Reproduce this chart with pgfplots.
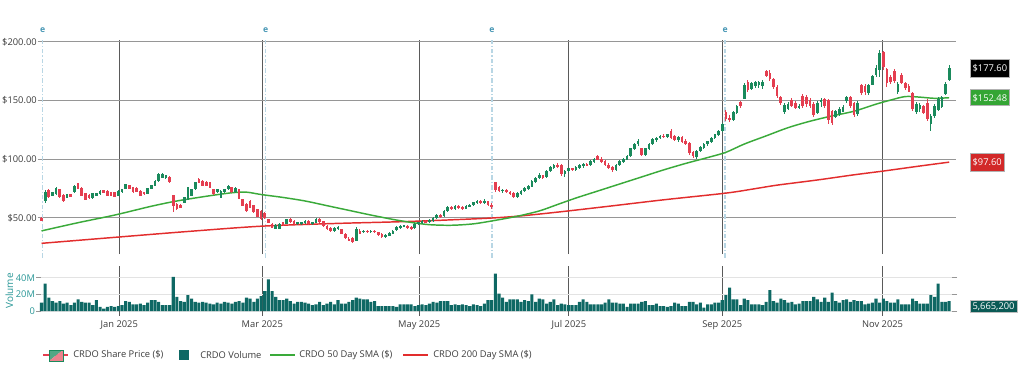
\documentclass[border=0pt]{standalone}
\usepackage{fontspec}
\setmainfont{Open Sans}
\usepackage{pgfplots}
\usepackage{pgfplotstable}
\pgfplotsset{compat=1.18}

\definecolor{cup}{RGB}{26,138,92}
\definecolor{cdn}{RGB}{228,62,80}
\definecolor{vol}{RGB}{14,104,100}
\definecolor{smaG}{RGB}{58,170,58}
\definecolor{smaR}{RGB}{226,45,45}
\definecolor{gridG}{RGB}{150,150,150}
\definecolor{monthG}{RGB}{90,90,90}
\definecolor{earn}{RGB}{184,214,228}
\definecolor{earnT}{RGB}{70,150,180}
\definecolor{tealT}{RGB}{40,150,150}
\definecolor{txt}{RGB}{60,60,60}
\definecolor{boxG}{RGB}{52,165,52}
\definecolor{boxR}{RGB}{210,40,40}
\definecolor{boxT}{RGB}{10,90,85}

\pgfplotstableread{
i o h l c v
0 50 50.5 47.5 48 10
1 65 74 63 71.5 33
2 74 75 67 68 16
3 69 72.5 68.5 72 12
4 71 76 70 75.5 10
5 74.5 75 67 68 12
6 69.5 70.5 64 65 9
7 67.5 70.5 67 70 10
8 70 70.5 68 68.5 7
9 72 78 71 77.4 10
10 79.5 80 74.5 75 14
11 75.5 76 68.5 69 11
12 71 71.5 65 66 10
13 69.5 70.5 66.5 67 10
14 67 71.5 66.5 71 7
15 69 71.5 68.5 71 13
16 70.5 73.5 70 73 5
17 73.5 74 71 71.5 3
18 73 73.5 68.5 69 5
19 72 72.5 68.5 69 6
20 71.5 72 68 68.5 5
21 69 73.5 68.5 73 6
22 72 75 71.5 74.5 7
23 75 79 74.5 78.5 12
24 78 78.5 74.5 75 11
25 76 76.5 71.5 72 8
26 75.5 76 72 72.5 8
27 73 73.5 68.5 69 9
28 72 72.5 70 70.5 7
29 71 75.5 70.5 75 10
30 75 78.5 74.5 78 13
31 77.5 82 77 81.5 13
32 82 88 81 87 11
33 84.5 88 84 87 7
34 84 86.5 83.5 86 7
35 85 86 80 80.5 7
36 69 69.5 55 60.5 41
37 62 62.5 57 58 17
38 61 61.5 58.5 59 12
39 63.3 68 63 67.5 11
40 66 76.5 65.5 76 19
41 69 75 68.5 74.6 15
42 74.6 80.5 74 80.2 11
43 83 84 80 80.2 10
44 81.6 82 77 77.4 11
45 80.8 81.5 77 77.4 10
46 80.2 80.5 75.5 76 9
47 74.6 75 70 70.3 8
48 72 75 71.5 74.6 10
49 67.5 73.5 67 73 9
50 72 75 71.5 74.6 11
51 74.6 78 74 77.4 10
52 76 76.5 71.5 72 9
53 72 76 71.5 75.5 11
54 74.5 75 66 66.5 12
55 66 66.5 60 60.5 10
56 62 62.5 55.5 56 16
57 64.5 65 58.5 59 15
58 60.5 61 54.5 55 11
59 57.6 58 50.5 51 15
60 56 56.5 48.5 49 18
61 54 55 49 50 24
62 49 49.5 46 46.3 38
63 45 45.5 41.5 42 24
64 41 44.5 40.5 44 17
65 41 45.5 40.5 45 13
66 46.3 47 43.5 44 13
67 45 49.5 44.5 49 15
68 49 50 46 47 12
69 47 48 44 45 9
70 45 47 44 46 11
71 45 47 44 46 11
72 46 48 45 47 10
73 47 48 44 45 9
74 45 47 44 46 7
75 46 50 46 49 8
76 49 50 46 47 11
77 47 47 42 43 7
78 43 44 40 41 9
79 41 42 38 39 11
80 39 42 38 41 8
81 41 43 40 42 13
82 40 41 36 37 9
83 36 37 32 33 9
84 32 34 30 31 11
85 33 34 29 30 13
86 31 42 30 40 16
87 39 41 36 37 15
88 38 40 37 39 14
89 39 40 37 38 14
90 38 40 37 39 11
91 39 40 37 38 12
92 38 38 35 36 6
93 36 37 33 34 6
94 34 36 33 35 6
95 35 38 35 37 6
96 37 40 37 39 6
97 40 43 39 42 5
98 42 44 41 43 8
99 43 44 42 43.5 8
100 43 44 41 42 8
101 42 43 40 41 8
102 42 46 41 45 6
103 45 47 44 46 7
104 46 48 45 47 8
105 47 48 46 46.5 7
106 46.5 49 46 48 9
107 48 51 47 50 11
108 50 53 49 52 10
109 52 53 50 51 12
110 52 57 51 56 12
111 56 60 55 59 12
112 59 60 57 58 7
113 58 61 57 60 8
114 60 61 58 59 7
115 59 60 57 58 8
116 58 61 58 60 7
117 60 62 59 61 6
118 61 64 60 63 8
119 63 65 62 64 7
120 64 65 62 63 6
121 63 66 62 64 9
122 64 64 60 61 13
123 61 63 58 60 13
124 80 81 72 74 45
125 76 77 72 73 21
126 73 75 71 74 16
127 74 75 71 72 11
128 72 73 70 71 14
129 71 72 67 68 14
130 68 72 67 71 14
131 71 74 70 73 11
132 73 76 72 75 13
133 75 78 74 77 12
134 77 82 76 81 20
135 81 85 80 84 11
136 84 88 83 86 15
137 86 87 83 84 14
138 85 91 84 90 9
139 90 94 89 93 11
140 93 96 92 95 14
141 95 97 93 94 7
142 95 96 86 88 9
143 88 91 85 90 8
144 90 93 89 92 7
145 92 93 90 91 7
146 91 94 90 93 7
147 93 96 92 95 11
148 95 97 93 96 14
149 96 97 94 95 11
150 95 99 94 98 8
151 98 101 97 100 8
152 103 104 99 100 8
153 100 102 97 98 8
154 98 99 94 95 10
155 95 97 92 93 14
156 93 94 89 91 10
157 91 96 90 95 10
158 95 99 94 98 9
159 98 101 97 100 9
160 100 104 99 103 5
161 103 110 102 109 9
162 109 114 108 113 9
163 113 117 111 115 9
164 109 110 103 104 11
165 104 110 103 109 12
166 109 114 108 113 7
167 113 118 112 117 7
168 117 119 115 118 9
169 118 121 117 120 6
170 120 122 118 119 6
171 119 122 118 121 5
172 124 126 117 118 6
173 120 121 116 117 10
174 117 120 115 119 9
175 119 120 114 115 6
176 115 117 112 113 6
177 114 115 104 106 11
178 106 107 101 103 11
179 102 108 100 107 8
180 107 111 106 110 10
181 110 114 109 113 4
182 113 116 111 115 8
183 115 119 114 118 8
184 118 122 117 121 10
185 121 125 120 124 10
186 124 131 123 130 13
187 140 142 133 135 19
188 135 138 132 134 28
189 134 141 133 140 14
190 140 146 139 145 14
191 149 150 144 146 7
192 152 165 151 163 15
193 166 168 157 159 13
194 160 166 159 165 8
195 163 167 161 166 8
196 164 167 161 166 8
197 163 168 160 166 7
198 175 176 170 171 11
199 173 176 167 169 25
200 168 169 160 162 12
201 161 163 152 154 10
202 153 154 146 148 15
203 141 148 139 146 13
204 143 149 142 147 10
205 150 152 145 146 11
206 148 150 143 144 8
207 144 147 143 145 9
208 154 156 144 146 12
209 153 155 145 147 12
210 150 152 144 146 12
211 147 149 136 138 17
212 140 150 139 148 14
213 149 152 145 150 11
214 151 152 144 146 16
215 150 151 130 134 11
216 141 142 129 131 22
217 136 142 135 141 12
218 139 145 137 143 10
219 141 146 140 144 13
220 150 154 148 153 14
221 153 154 144 146 11
222 148 149 136 138 13
223 139 150 137 148 12
224 163 164 155 157 12
225 162 164 155 158 8
226 157 164 155 163 9
227 164 172 163 171 10
228 172 180 170 178 15
229 176 193 170 190 10
230 191 192 176 179 15
231 177 178 162 165 12
232 170 172 164 166 10
233 175 177 165 167 10
234 158 166 156 164 14
235 172 174 164 165 8
236 165 166 159 161 8
237 162 164 157 158 8
238 156 157 141 143 15
239 141 149 139 147 12
240 143 148 140 146 9
241 145 146 139 140 9
242 148 151 133 135 9
243 130 139 124 137 19
244 137 147 135 145 17
245 142 153 141 151 33
246 145 154 144 153 11
247 156 166 155 164 11
248 168 180 167 177.6 12
}\ohlc

\pgfplotstableread{
i s
0 39
10 46
20 52.5
30 60
37 64.5
45 68.5
52 71.5
56 72
60 70
66 67.5
72 64.5
78 60.5
84 56.5
90 52.5
96 48.8
101 46.2
106 44.3
112 43.8
118 45
124 48
130 51.5
136 56
141 61.5
146 67
152 73
158 79
164 85
170 91
176 96.5
182 101.5
187 106
192 113
198 120
204 127
210 132.5
216 137
222 141
228 147
232 150.5
236 153.5
240 153
244 152
248 152.5
}\smaf

\pgfplotstableread{
i s
0 28.4
20 33.5
40 38.5
60 43
80 45.3
100 47
120 49.5
130 51.5
141 55
155 60
170 65.5
187 71.2
195 75
201 78
212 82.4
222 86.8
230 90
240 94.3
248 97.6
}\smas

\begin{document}
\begin{tikzpicture}[font=\fontsize{7}{8}\selectfont]
\useasboundingbox (0,0) rectangle (768pt,282pt);
\begin{axis}[
  at={(30.75pt,91.5pt)}, anchor=south west, scale only axis,
  width=683.6pt, height=160.5pt,
  xmin=-0.14, xmax=248.9, ymin=19.3, ymax=201.7,
  axis line style={draw=none},
  xtick={21.26,60.33,103.2,144.1,186.0,229.8}, xticklabels={},
  xmajorgrids, ymajorgrids,
  x grid style={monthG, line width=0.75pt},
  y grid style={gridG, line width=0.75pt},
  xtick style={draw=none},
  ytick={50,100,150,200}, yticklabels={\$50.00,\$100.00,\$150.00,\$200.00},
  ytick style={gridG, line width=0.75pt},
  tick align=outside, major tick length=2.5pt,
  tick label style={font=\fontsize{7}{8}\selectfont},
  yticklabel style={text=txt, inner sep=0pt, xshift=-0.5pt},
  clip=false,
  unbounded coords=discard,
]
\draw[earn, line width=1.1pt, dash pattern=on 3.5pt off 1.5pt on 0.8pt off 1.5pt] (axis cs:0.33,16) -- (axis cs:0.33,201.7);
\draw[earn, line width=1.1pt, dash pattern=on 3.5pt off 1.5pt on 0.8pt off 1.5pt] (axis cs:61.26,16) -- (axis cs:61.26,201.7);
\draw[earn, line width=1.1pt, dash pattern=on 3.5pt off 1.5pt on 0.8pt off 1.5pt] (axis cs:123.1,16) -- (axis cs:123.1,201.7);
\draw[earn, line width=1.1pt, dash pattern=on 3.5pt off 1.5pt on 0.8pt off 1.5pt] (axis cs:186.8,16) -- (axis cs:186.8,201.7);
\node[text=earnT, font=\fontsize{6.5}{7}\selectfont\bfseries] at (axis cs:0.33,210) {e};
\node[text=earnT, font=\fontsize{6.5}{7}\selectfont\bfseries] at (axis cs:61.26,210) {e};
\node[text=earnT, font=\fontsize{6.5}{7}\selectfont\bfseries] at (axis cs:123.1,210) {e};
\node[text=earnT, font=\fontsize{6.5}{7}\selectfont\bfseries] at (axis cs:186.8,210) {e};

\addplot[smaR, line width=1.1pt, mark=none, smooth] table[x=i, y=s] {\smas};
\addplot[smaG, line width=1.1pt, mark=none, smooth] table[x=i, y=s] {\smaf};

% wicks
\addplot[draw=none, mark=none, forget plot, error bars/.cd, y dir=both, y explicit, error mark=none,
  error bar style={draw=cup, line width=0.7pt}]
  table[x=i, y expr={\thisrow{c}>=\thisrow{o} ? (\thisrow{h}+\thisrow{l})/2 : nan},
        y error expr={(\thisrow{h}-\thisrow{l})/2}] {\ohlc};
\addplot[draw=none, mark=none, forget plot, error bars/.cd, y dir=both, y explicit, error mark=none,
  error bar style={draw=cdn, line width=0.7pt}]
  table[x=i, y expr={\thisrow{c}<\thisrow{o} ? (\thisrow{h}+\thisrow{l})/2 : nan},
        y error expr={(\thisrow{h}-\thisrow{l})/2}] {\ohlc};
% bodies
\addplot[draw=none, mark=none, forget plot, error bars/.cd, y dir=both, y explicit, error mark=none,
  error bar style={draw=cup, line width=2pt}]
  table[x=i, y expr={\thisrow{c}>=\thisrow{o} ? (\thisrow{o}+\thisrow{c})/2 : nan},
        y error expr={abs(\thisrow{c}-\thisrow{o})/2+0.25}] {\ohlc};
\addplot[draw=none, mark=none, forget plot, error bars/.cd, y dir=both, y explicit, error mark=none,
  error bar style={draw=cdn, line width=2pt}]
  table[x=i, y expr={\thisrow{c}<\thisrow{o} ? (\thisrow{o}+\thisrow{c})/2 : nan},
        y error expr={abs(\thisrow{c}-\thisrow{o})/2+0.25}] {\ohlc};

\node[fill=black, draw=gray!60, line width=0.4pt, text=white, anchor=west, inner xsep=1.7pt, inner ysep=0pt, minimum height=13pt] at (axis cs:253.7,177.6) {\$177.60};
\node[fill=boxG, draw=gray!60, line width=0.4pt, text=white, anchor=west, inner xsep=1.7pt, inner ysep=0pt, minimum height=12pt] at (axis cs:253.7,152.48) {\$152.48};
\node[fill=boxR, draw=gray!60, line width=0.4pt, text=white, anchor=west, inner xsep=1.7pt, inner ysep=0pt, minimum height=13pt] at (axis cs:253.7,97.6) {\$97.60};
\end{axis}

\begin{axis}[
  at={(30.75pt,48.75pt)}, anchor=south west, scale only axis,
  width=683.6pt, height=30pt,
  xmin=-0.14, xmax=248.9, ymin=0, ymax=48,
  axis line style={draw=none},
  xtick={21.26,60.33,103.2,144.1,186.0,229.8},
  xticklabels={Jan 2025,Mar 2025,May 2025,Jul 2025,Sep 2025,Nov 2025},
  xmajorgrids, x grid style={monthG, line width=0.75pt},
  xtick style={monthG, line width=0.75pt},
  tick align=outside, major tick length=3.5pt,
  ytick={0,20,40}, yticklabels={0,20M,40M},
  ymajorgrids, y grid style={gray!22, line width=0.5pt},
  ytick style={gridG, line width=0.6pt},
  tick label style={font=\fontsize{7}{8}\selectfont},
  yticklabel style={text=tealT, inner sep=0pt, xshift=-0.8pt},
  xticklabel style={text=txt},
  ylabel={Volume},
  ylabel style={text=tealT, font=\fontsize{7.5}{8}\selectfont, at={(axis description cs:-0.0348,0.5)}, anchor=center},
  clip=false,
]
\addplot[ybar, bar width=2.3pt, fill=vol, draw=none] table[x=i, y=v] {\ohlc};
\node[fill=boxT, draw=gray!50, line width=0.4pt, text=white, anchor=west, inner xsep=1.7pt, inner ysep=0pt, minimum height=9pt] at (axis cs:253.7,5.6652) {5,665,200};
\end{axis}

% legend
\draw[cdn, line width=0.9pt] (32.25pt,15.75pt) -- (51pt,15.75pt);
\fill[cup!75] (36.75pt,11.25pt) -- (36.75pt,19.5pt) -- (47.25pt,19.5pt) -- cycle;
\fill[cdn!65] (36.75pt,11.25pt) -- (47.25pt,11.25pt) -- (47.25pt,19.5pt) -- cycle;
\draw[cup, line width=0.5pt] (36.75pt,11.25pt) rectangle (47.25pt,19.5pt);
\node[anchor=west, inner sep=0pt, text=txt] at (54.75pt,15.75pt) {CRDO Share Price (\$)};
\fill[vol] (134.25pt,12pt) rectangle (141.75pt,19.5pt);
\node[anchor=west, inner sep=0pt, text=txt] at (150pt,15.75pt) {CRDO Volume};
\draw[smaG, line width=1.1pt] (202.5pt,15.75pt) -- (221.25pt,15.75pt);
\node[anchor=west, inner sep=0pt, text=txt] at (224.25pt,15.75pt) {CRDO 50 Day SMA (\$)};
\draw[smaR, line width=1.1pt] (302.25pt,15.75pt) -- (321pt,15.75pt);
\node[anchor=west, inner sep=0pt, text=txt] at (324.75pt,15.75pt) {CRDO 200 Day SMA (\$)};
\end{tikzpicture}
\end{document}
